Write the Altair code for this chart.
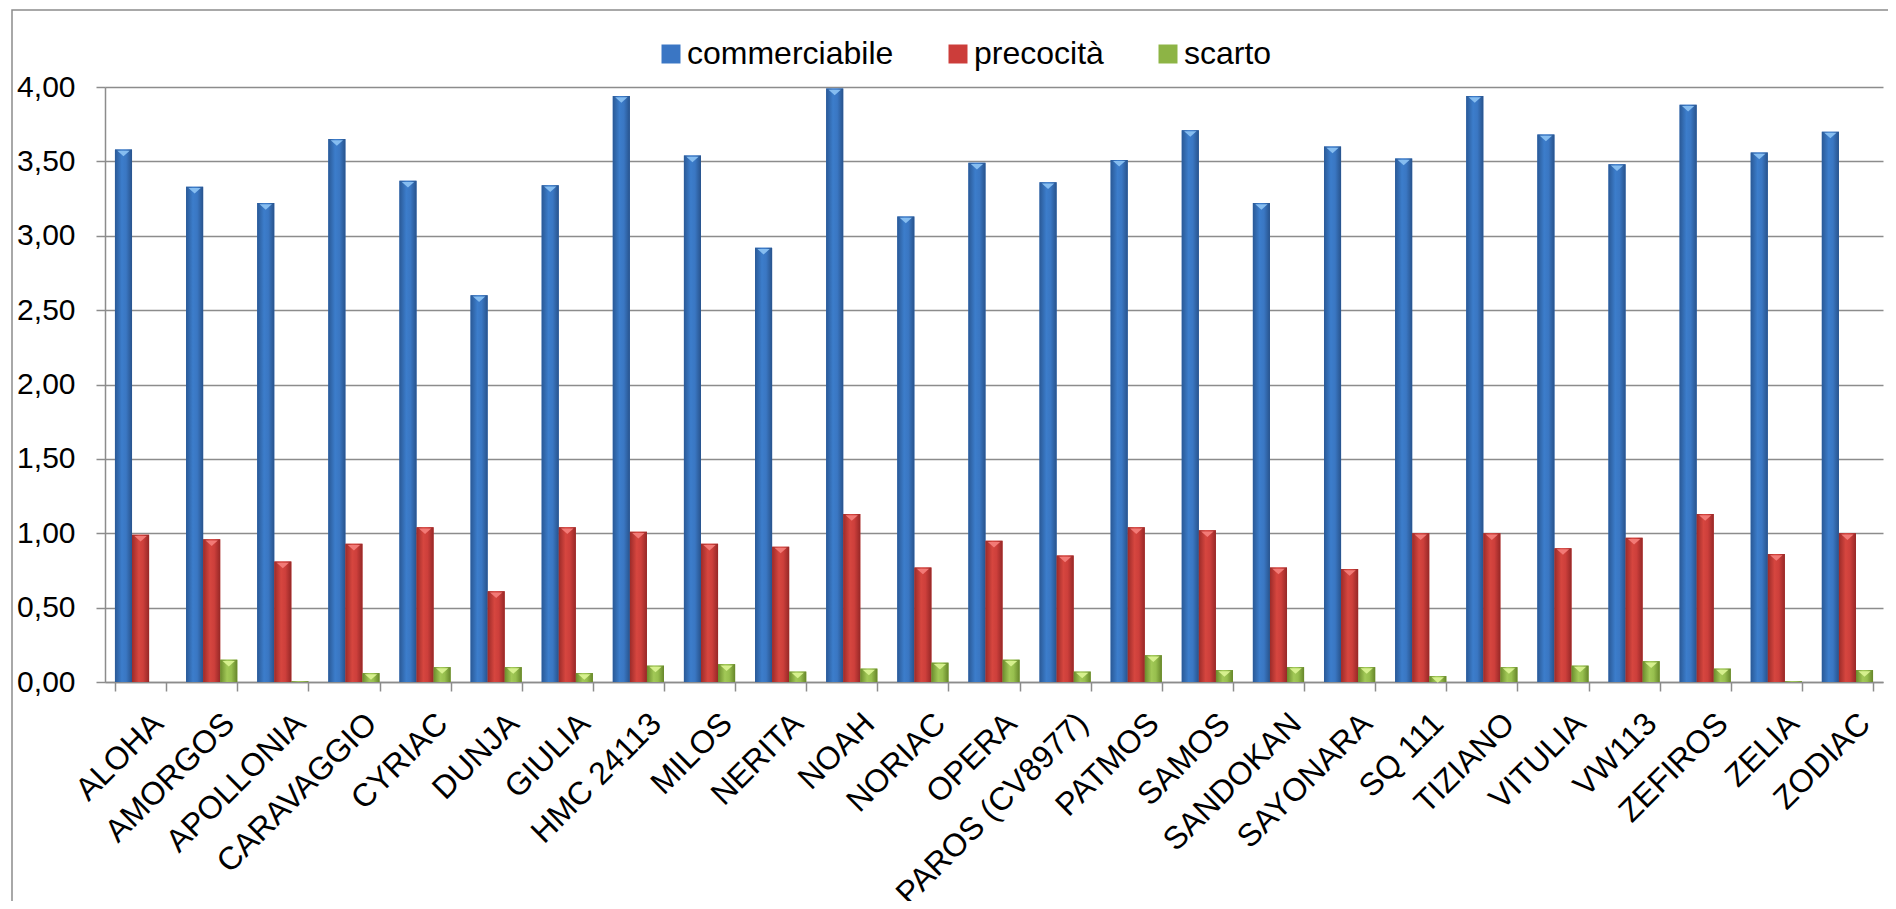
import altair as alt
import pandas as pd

cultivars = ["ALOHA", "AMORGOS", "APOLLONIA", "CARAVAGGIO", "CYRIAC", "DUNJA", "GIULIA",
             "HMC 24113", "MILOS", "NERITA", "NOAH", "NORIAC", "OPERA", "PAROS (CV8977)",
             "PATMOS", "SAMOS", "SANDOKAN", "SAYONARA", "SQ 111", "TIZIANO", "VITULIA",
             "VW113", "ZEFIROS", "ZELIA", "ZODIAC"]
commerciabile = [3.58, 3.33, 3.22, 3.65, 3.37, 2.60, 3.34, 3.94, 3.54, 2.92, 3.99, 3.13, 3.49,
                 3.36, 3.51, 3.71, 3.22, 3.60, 3.52, 3.94, 3.68, 3.48, 3.88, 3.56, 3.70]
precocita = [0.99, 0.96, 0.81, 0.93, 1.04, 0.61, 1.04, 1.01, 0.93, 0.91, 1.13, 0.77, 0.95,
             0.85, 1.04, 1.02, 0.77, 0.76, 1.00, 1.00, 0.90, 0.97, 1.13, 0.86, 1.00]
scarto = [0.00, 0.15, 0.005, 0.06, 0.10, 0.10, 0.06, 0.11, 0.12, 0.07, 0.09, 0.13, 0.15,
          0.07, 0.18, 0.08, 0.10, 0.10, 0.04, 0.10, 0.11, 0.14, 0.09, 0.005, 0.08]
series = ["commerciabile", "precocità", "scarto"]
y_ticks = [0, 0.5, 1.0, 1.5, 2.0, 2.5, 3.0, 3.5, 4.0]

solid = ["#3A76C4", "#CC3D3A", "#8DB445"]
light = ["#86BDF0", "#F27A76", "#D6F08E"]
grad_stops = [
    ["#2A5996", "#3C7DCB", "#3A77C3", "#28538C"],
    ["#9C2B29", "#D6463F", "#CD3F3B", "#962827"],
    ["#6A8B2C", "#A2C957", "#97BF4E", "#66862A"],
]

rows = []
for s, vals in zip(series, [commerciabile, precocita, scarto]):
    for c, v in zip(cultivars, vals):
        rows.append({"cultivar": c, "serie": s, "valore": v})
df = pd.DataFrame(rows)

GRAY = "#8C8C8C"
FONT = "Liberation Sans"

x_enc = alt.X("cultivar:N", sort=cultivars, title=None,
              scale=alt.Scale(paddingInner=0.28, paddingOuter=0.14),
              axis=alt.Axis(labelAngle=-45, labelAlign="right", labelBaseline="middle",
                            labelPadding=27, labelOffset=17, tickBand="extent",
                            tickSize=9, grid=False, labelFont=FONT, labelFontSize=32,
                            labelColor="black", labelLimit=0, labelOverlap=False,
                            domainColor=GRAY, domainWidth=1.5, tickColor=GRAY, tickWidth=1.5))
xo_enc = alt.XOffset("serie:N", sort=series,
                     scale=alt.Scale(domain=series, paddingInner=0, paddingOuter=0))
y_enc = alt.Y("valore:Q", title=None,
              scale=alt.Scale(domain=[0, 4], nice=False),
              axis=alt.Axis(values=y_ticks, tickSize=9, labelPadding=21, grid=True,
                            labelFont=FONT, labelFontSize=30, labelColor="black",
                            domainColor=GRAY, domainWidth=1.5, tickColor=GRAY, tickWidth=1.5,
                            gridColor=GRAY, gridWidth=1.5, gridOpacity=1,
                            labelExpr="replace(format(datum.value, '.2f'), '.', ',')"))

base = alt.Chart(df)

legend_bars = base.mark_bar().encode(
    x=x_enc, xOffset=xo_enc, y=y_enc,
    color=alt.Color("serie:N", sort=series,
                    scale=alt.Scale(domain=series, range=solid),
                    legend=alt.Legend(orient="none", legendX=550, legendY=-49,
                                      direction="horizontal", symbolType="square",
                                      symbolSize=361, symbolStrokeWidth=0,
                                      labelFontSize=32, labelFont=FONT, labelColor="black",
                                      labelLimit=0, columnPadding=48, labelOffset=0,
                                      title=None, padding=0)),
)

grad_layers = []
for s, st in zip(series, grad_stops):
    g = alt.LinearGradient(
        gradient="linear", x1=0, x2=1, y1=0, y2=0,
        stops=[alt.GradientStop(color=st[0], offset=0),
               alt.GradientStop(color=st[1], offset=0.4),
               alt.GradientStop(color=st[2], offset=0.65),
               alt.GradientStop(color=st[3], offset=1)])
    grad_layers.append(
        base.transform_filter(alt.datum.serie == s).mark_bar(color=g).encode(
            x=x_enc, xOffset=xo_enc, y=y_enc)
    )

tri = base.transform_filter(alt.datum.valore > 0.03).mark_point(
    shape="M-1,0.2L1,0.2L0,1.1Z", filled=True, size=150, opacity=1, strokeWidth=0
).encode(
    x=x_enc, xOffset=xo_enc, y=y_enc,
    color=alt.Color("serie:N", sort=series,
                    scale=alt.Scale(domain=series, range=light), legend=None),
)

frame = alt.Chart(pd.DataFrame({"k": [0]})).mark_rect(
    fillOpacity=0, stroke=GRAY, strokeWidth=1.5
).encode(x=alt.value(-93), x2=alt.value(3000), y=alt.value(-77), y2=alt.value(3000))

chart = alt.layer(frame, legend_bars, *grad_layers, tri).resolve_scale(
    color="independent"
).properties(
    width=1778, height=595,
    background="white",
    autosize=alt.AutoSizeParams(type="none"),
    padding={"left": 97, "top": 79, "right": 5, "bottom": 219},
).configure_view(strokeOpacity=0)

chart.save("out.html", embed_options={"renderer": "svg", "actions": False})
